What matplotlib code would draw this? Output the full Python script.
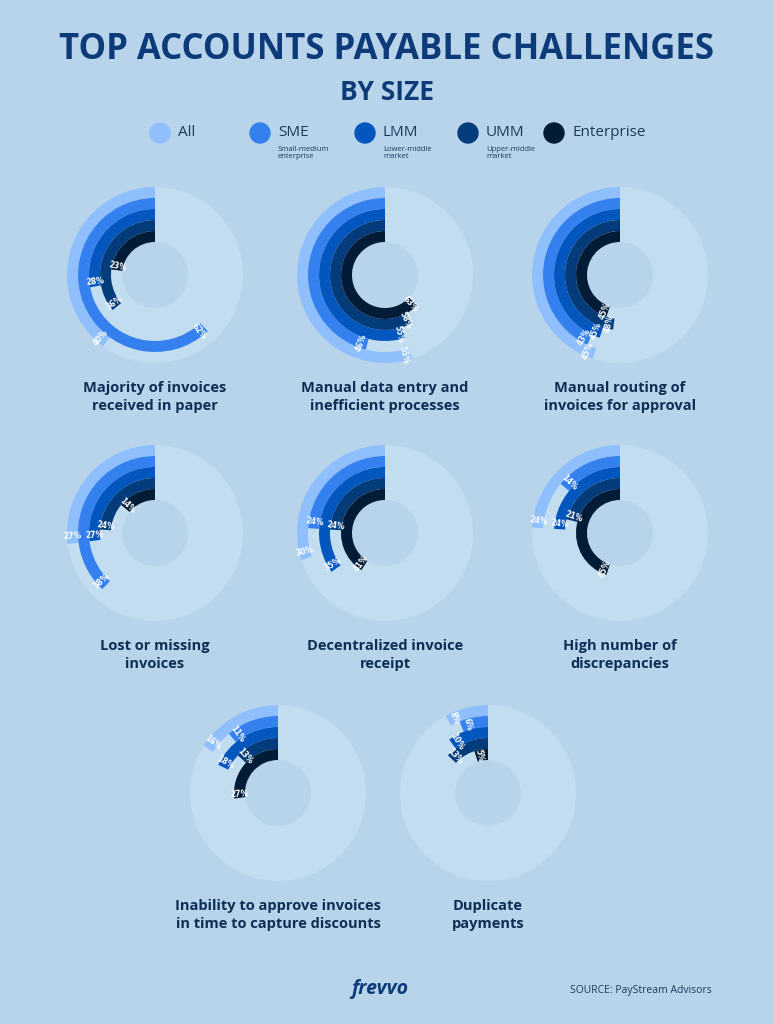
import matplotlib
matplotlib.use("Agg")
import matplotlib.pyplot as plt
from matplotlib.patches import Wedge, Circle

segments = ["All", "SME", "LMM", "UMM", "Enterprise"]
seg_sub = ["", "Small-medium\nenterprise", "Lower-middle\nmarket", "Upper-middle\nmarket", ""]
colors = ["#8fbffc", "#3380ee", "#0456bf", "#043b7a", "#021b36"]
challenges = ["Majority of invoices\nreceived in paper",
              "Manual data entry and\ninefficient processes",
              "Manual routing of\ninvoices for approval",
              "Lost or missing\ninvoices",
              "Decentralized invoice\nreceipt",
              "High number of\ndiscrepancies",
              "Inability to approve invoices\nin time to capture discounts",
              "Duplicate\npayments"]
values = [[40, 62, 28, 36, 23],
          [55, 46, 55, 58, 63],
          [45, 43, 45, 48, 45],
          [27, 38, 27, 24, 14],
          [30, 24, 35, 24, 41],
          [24, 14, 24, 21, 45],
          [16, 11, 18, 13, 27],
          [8, 6, 10, 13, 5]]

W, H = 773, 1024
BG = "#b7d4ea"
DISC = "#c3ddf0"
TITLE = "#0d3b7a"
fig = plt.figure(figsize=(W/100, H/100), dpi=100, facecolor=BG)
ax = fig.add_axes([0, 0, 1, 1])
ax.set_xlim(0, W); ax.set_ylim(0, H); ax.axis("off")
ax.set_facecolor(BG)

def Y(py): return H - py

ax.text(W/2, Y(50), "TOP ACCOUNTS PAYABLE CHALLENGES", ha="center", va="center",
        fontsize=25, fontweight="bold", color=TITLE, family="Open Sans")
ax.text(W/2, Y(93), "BY SIZE", ha="center", va="center",
        fontsize=19, fontweight="bold", color=TITLE, family="Open Sans")

leg_x = [160, 260, 365, 468, 554]
for x, s, sub, c in zip(leg_x, segments, seg_sub, colors):
    ax.add_patch(Circle((x, Y(133)), 10, color=c))
    ax.text(x + 18, Y(133), s, ha="left", va="center", fontsize=11, color="#1e3a5c", family="Open Sans")
    if sub:
        ax.text(x + 18, Y(146), sub, ha="left", va="top", fontsize=5.5, color="#1e3a5c",
                family="Open Sans", linespacing=1.1)

centers = [(155, 275), (385, 275), (620, 275),
           (155, 533), (385, 533), (620, 533),
           (278, 793), (488, 793)]
R_OUT, R_IN = 88, 33
rw = (R_OUT - R_IN) / 5
for (cx, cy), vals, name in zip(centers, values, challenges):
    c = (cx, Y(cy))
    ax.add_patch(Wedge(c, R_OUT, 0, 360, width=R_OUT - R_IN, color=DISC, lw=0))
    for i, (v, col) in enumerate(zip(vals, colors)):
        r = R_OUT - i * rw
        t2 = 90 + v * 3.6
        ax.add_patch(Wedge(c, r, 90, t2, width=rw, color=col, lw=0))
        import math
        a = t2 - 5
        rm = r - rw / 2
        tx = c[0] + rm * math.cos(math.radians(a))
        ty = c[1] + rm * math.sin(math.radians(a))
        rot = a
        if 90 < rot % 360 < 270:
            rot -= 180
        ax.text(tx, ty, f"{v}%", ha="center", va="center", fontsize=5.5, color="white",
                fontweight="bold", rotation=rot, family="DejaVu Sans")
    ax.text(cx, Y(cy + 122), name, ha="center", va="center", fontsize=10.5,
            fontweight="bold", color="#0e2e55", family="Open Sans", linespacing=1.3)

ax.text(380, Y(989), "frevvo", ha="center", va="center", fontsize=14, fontweight="bold",
        style="italic", color=TITLE, family="Open Sans")
ax.text(570, Y(990), "SOURCE: PayStream Advisors", ha="left", va="center", fontsize=7.5,
        color="#1e3a5c", family="Open Sans")

fig.savefig("out.png", dpi=100, facecolor=BG)
